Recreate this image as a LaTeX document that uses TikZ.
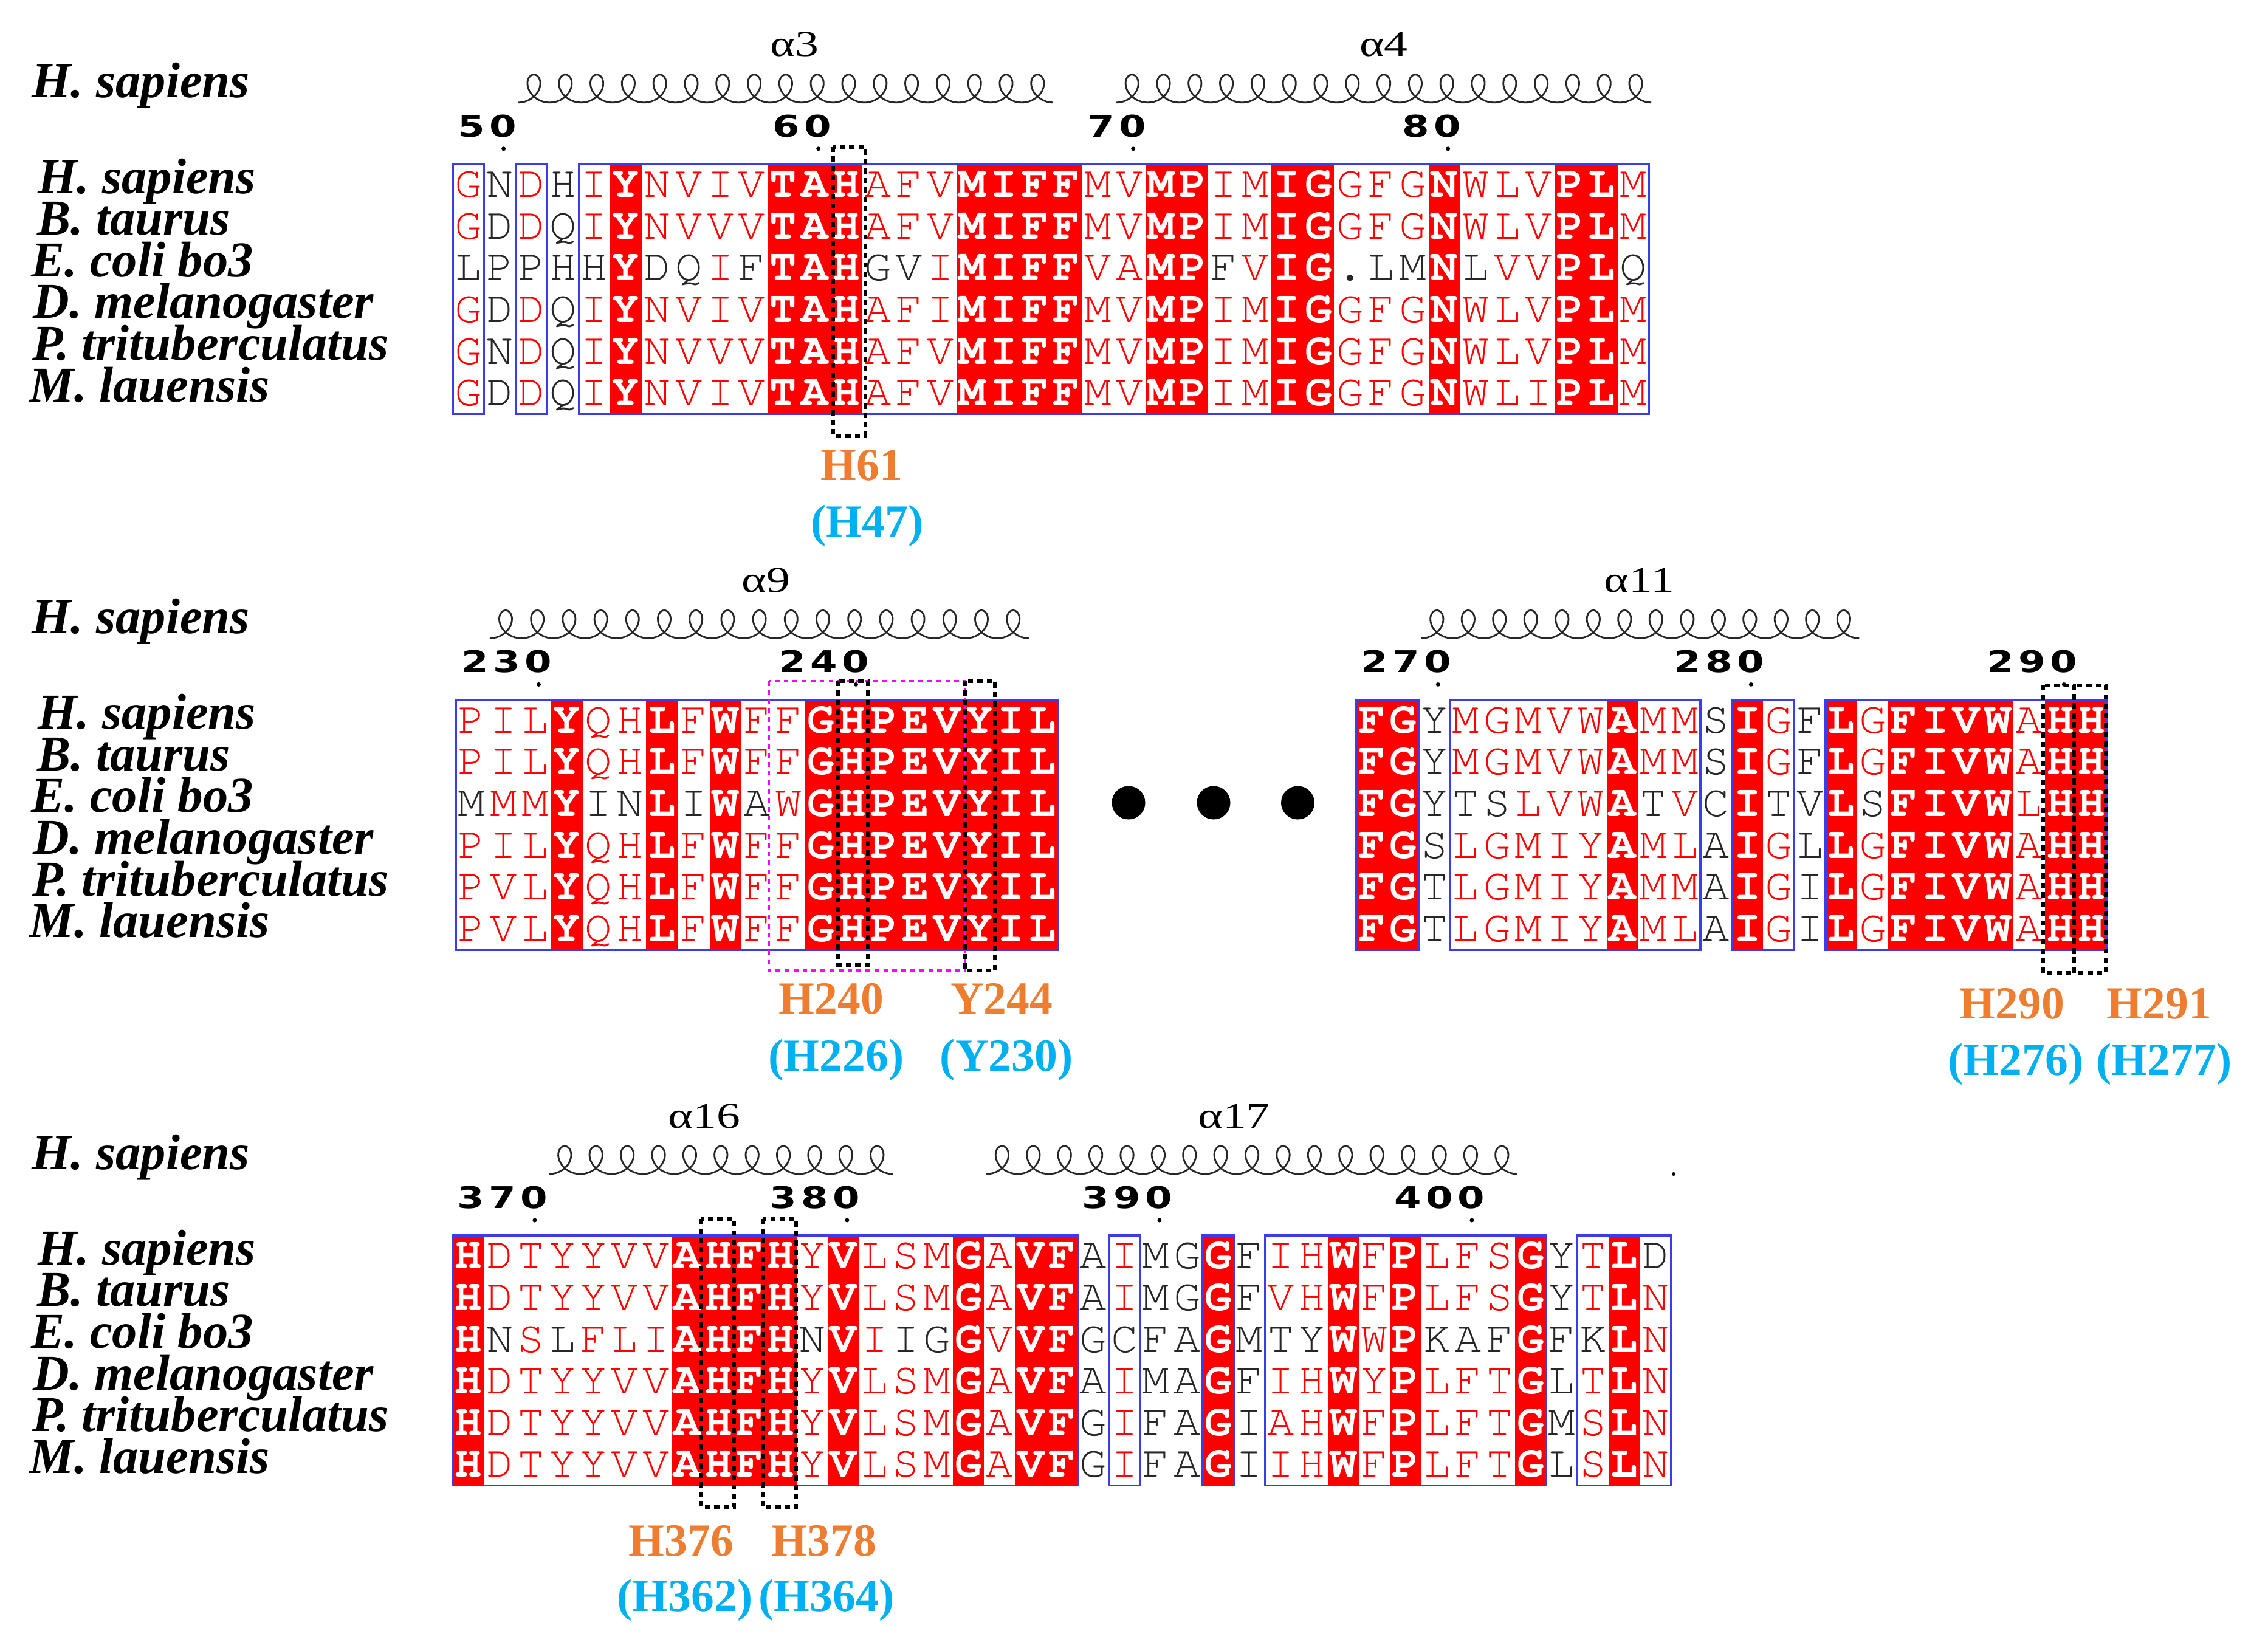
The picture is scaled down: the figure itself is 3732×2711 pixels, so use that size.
\documentclass[tikz,border=0pt]{standalone}
\usepackage{graphicx}
\usepackage{fontspec}
\setmainfont{Liberation Serif}
\newfontfamily\cursorfont{TeX Gyre Cursor}
\newfontfamily\dejafont{DejaVu Sans}

\definecolor{esred}{RGB}{255,0,0}
\definecolor{esblue}{RGB}{60,60,235}
\definecolor{lorange}{RGB}{237,125,49}
\definecolor{lblue}{RGB}{0,176,240}
\definecolor{magdot}{RGB}{255,0,255}

\newcount\rescnt
\def\cellrow#1#2#3#4{\def\rsPre{#1}\def\rsX{#2}\def\rsY{#3}\def\rsW{#4}\rescnt=0 \cellpair}
\def\cellpair#1#2{\ifx\relax#1\else\docell{#1}{#2}\expandafter\cellpair\fi}
\def\docell#1#2{\advance\rescnt by 1
 \pgfmathsetmacro\rsXX{\rsX+(\the\rescnt-0.5)*\rsW}%
 \node[res#2] (\rsPre\the\rescnt) at (\rsXX,\rsY) {#1};}

\newcommand\bgframes[5]{%
 \foreach \c in {#4} \fill[esred] ({#1+(\c-1)*#3},#2) rectangle ++(#3,411.6);
 \foreach \a/\b in {#5} \draw[frame] ({#1+(\a-1)*#3},#2) rectangle ({#1+\b*#3},{#2+411.6});
}
\newcommand\helixdraw[4]{%
 \pgfmathsetmacro\hxend{2*pi*(#3-1)+pi}%
 \pgfmathsetmacro\hns{int(36*#3)}%
 \draw[helixst] plot[domain=-3.14159:\hxend, samples=\hns, variable=\hh]
   ({#1+#4/6.28318*\hh-22*sin(\hh r)},{#2-23*(1+cos(\hh r))});
}
\newcommand\numd[1]{\makebox[0.52cm]{\scalebox{1.3}[1]{#1}}}
\newcommand\numlab[4]{%
 \node[numst, anchor=base east] (#1) at ({#2+32},{#3-44.5}) {#4};
 \fill[black] ({#2+6},{#3-25}) circle[radius=3.5];
}
\newcommand\alphalab[3]{\node[alab] (#1) at (#2) {\scalebox{1.3}[1]{#3}};}
\newcommand\speciesblock[2]{%
 \node[species] (#1top) at (52,{#2-109}) {H. sapiens};
 \foreach \n/\xo [count=\r] in {H. sapiens/62,B. taurus/61,E. coli bo3/51,D. melanogaster/54,P. trituberculatus/53,M. lauensis/48}
   \node[species] (#1sp\r) at (\xo,{#2+48.3+68.6*(\r-1)}) {\n};
}

\tikzset{
 resbase/.style={font=\cursorfont\fontsize{21}{21}\selectfont, inner sep=0pt, anchor=base},
 resr/.style={resbase, text=esred},
 resk/.style={resbase, text=black!85},
 resw/.style={resbase, text=white, font=\cursorfont\bfseries\fontsize{21}{21}\selectfont},
 frame/.style={draw=esblue, line width=0.9pt},
 helixst/.style={draw=black!85, line width=0.8pt},
 numst/.style={font=\dejafont\bfseries\fontsize{14}{14}\selectfont, inner sep=0pt},
 species/.style={font=\bfseries\itshape\fontsize{23.5}{23.5}\selectfont, anchor=base west, inner sep=0pt},
 alab/.style={font=\fontsize{17}{17}\selectfont, inner sep=0pt},
 olab/.style={font=\bfseries\fontsize{21.5}{21.5}\selectfont, text=lorange, inner sep=0pt, anchor=base},
 blab/.style={font=\bfseries\fontsize{21.5}{21.5}\selectfont, text=lblue, inner sep=0pt, anchor=base},
 dotbox/.style={draw=black, line width=1.7pt, dash pattern=on 2.4pt off 2pt},
 magbox/.style={draw=magdot, line width=1.3pt, dash pattern=on 2.2pt off 2pt},
}

\begin{document}
\begin{tikzpicture}[x=0.01cm, y=-0.01cm]
\useasboundingbox (0,0) rectangle (3732,2711);
\fill[white] (0,0) rectangle (3732,2711);

% ================= Block 1 =================
\speciesblock{a}{269.8}
\bgframes{745}{269.8}{51.8}{6,11,12,13,17,18,19,20,23,24,27,28,32,36,37}{1/1,3/3,5/38}
\cellrow{a1c}{745}{324.6}{51.8} Gr Nk Dr Hk Ir Yw Nr Vr Ir Vr Tw Aw Hw Ar Fr Vr Mw Iw Fw Fw Mr Vr Mw Pw Ir Mr Iw Gw Gr Fr Gr Nw Wr Lr Vr Pw Lw Mr \relax\relax
\cellrow{a2c}{745}{393.2}{51.8} Gr Dk Dr Qk Ir Yw Nr Vr Vr Vr Tw Aw Hw Ar Fr Vr Mw Iw Fw Fw Mr Vr Mw Pw Ir Mr Iw Gw Gr Fr Gr Nw Wr Lr Vr Pw Lw Mr \relax\relax
\cellrow{a3c}{745}{461.8}{51.8} Lk Pk Pk Hk Hk Yw Dk Qk Ir Fk Tw Aw Hw Gk Vk Ir Mw Iw Fw Fw Vr Ar Mw Pw Fk Vr Iw Gw .k Lk Mk Nw Lk Vr Vr Pw Lw Qk \relax\relax
\cellrow{a4c}{745}{530.4}{51.8} Gr Dk Dr Qk Ir Yw Nr Vr Ir Vr Tw Aw Hw Ar Fr Ir Mw Iw Fw Fw Mr Vr Mw Pw Ir Mr Iw Gw Gr Fr Gr Nw Wr Lr Vr Pw Lw Mr \relax\relax
\cellrow{a5c}{745}{599.0}{51.8} Gr Nk Dr Qk Ir Yw Nr Vr Vr Vr Tw Aw Hw Ar Fr Vr Mw Iw Fw Fw Mr Vr Mw Pw Ir Mr Iw Gw Gr Fr Gr Nw Wr Lr Vr Pw Lw Mr \relax\relax
\cellrow{a6c}{745}{667.6}{51.8} Gr Dk Dr Qk Ir Yw Nr Vr Ir Vr Tw Aw Hw Ar Fr Vr Mw Iw Fw Fw Mr Vr Mw Pw Ir Mr Iw Gw Gr Fr Gr Nw Wr Lr Ir Pw Lw Mr \relax\relax
\numlab{n50}{822.7}{269.8}{\numd{5}\numd{0}}
\numlab{n60}{1340.7}{269.8}{\numd{6}\numd{0}}
\numlab{n70}{1858.7}{269.8}{\numd{7}\numd{0}}
\numlab{n80}{2376.7}{269.8}{\numd{8}\numd{0}}
\helixdraw{878.5}{168.8}{17}{51.8}
\helixdraw{1862.7}{168.8}{17}{51.8}
\alphalab{a3}{1307.6,73.4}{α3}
\alphalab{a4}{2277,73.4}{α4}
\draw[dotbox] (1371,242) rectangle (1424,717);
\node[olab] (h61) at (1418,790) {H61};
\node[blab] (h47) at (1427,883) {(H47)};

% ================= Block 2 left =================
\speciesblock{b}{1151.4}
\bgframes{750}{1151.4}{52.2}{4,7,9,12,13,14,15,16,17,18,19}{1/19}
\cellrow{b1c}{750}{1206.2}{52.2} Pr Ir Lr Yw Qr Hr Lw Fr Ww Fr Fr Gw Hw Pw Ew Vw Yw Iw Lw \relax\relax
\cellrow{b2c}{750}{1274.8}{52.2} Pr Ir Lr Yw Qr Hr Lw Fr Ww Fr Fr Gw Hw Pw Ew Vw Yw Iw Lw \relax\relax
\cellrow{b3c}{750}{1343.4}{52.2} Mk Mr Mr Yw Ik Nk Lw Ik Ww Ak Wr Gw Hw Pw Ew Vw Yw Iw Lw \relax\relax
\cellrow{b4c}{750}{1412.0}{52.2} Pr Ir Lr Yw Qr Hr Lw Fr Ww Fr Fr Gw Hw Pw Ew Vw Yw Iw Lw \relax\relax
\cellrow{b5c}{750}{1480.6}{52.2} Pr Vr Lr Yw Qr Hr Lw Fr Ww Fr Fr Gw Hw Pw Ew Vw Yw Iw Lw \relax\relax
\cellrow{b6c}{750}{1549.2}{52.2} Pr Vr Lr Yw Qr Hr Lw Fr Ww Fr Fr Gw Hw Pw Ew Vw Yw Iw Lw \relax\relax
\numlab{n230}{880.5}{1151.4}{\numd{2}\numd{3}\numd{0}}
\numlab{n240}{1402.5}{1151.4}{\numd{2}\numd{4}\numd{0}}
\helixdraw{832}{1050.4}{17}{52.2}
\alphalab{a9}{1260.6,955}{α9}

% ================= Block 2 right =================
\bgframes{2231.5}{1151.4}{51.5}{1,2,9,13,16,18,19,20,21,23,24}{1/2,4/11,13/14,16/24}
\cellrow{c1c}{2231.5}{1206.2}{51.5} Fw Gw Yk Mr Gr Mr Vr Wr Aw Mr Mr Sk Iw Gr Fk Lw Gr Fw Iw Vw Ww Ar Hw Hw \relax\relax
\cellrow{c2c}{2231.5}{1274.8}{51.5} Fw Gw Yk Mr Gr Mr Vr Wr Aw Mr Mr Sk Iw Gr Fk Lw Gr Fw Iw Vw Ww Ar Hw Hw \relax\relax
\cellrow{c3c}{2231.5}{1343.4}{51.5} Fw Gw Yk Tk Sk Lr Vr Wr Aw Tk Vr Ck Iw Tk Vk Lw Sk Fw Iw Vw Ww Lr Hw Hw \relax\relax
\cellrow{c4c}{2231.5}{1412.0}{51.5} Fw Gw Sk Lr Gr Mr Ir Yr Aw Mr Lr Ak Iw Gr Lk Lw Gr Fw Iw Vw Ww Ar Hw Hw \relax\relax
\cellrow{c5c}{2231.5}{1480.6}{51.5} Fw Gw Tk Lr Gr Mr Ir Yr Aw Mr Mr Ak Iw Gr Ik Lw Gr Fw Iw Vw Ww Ar Hw Hw \relax\relax
\cellrow{c6c}{2231.5}{1549.2}{51.5} Fw Gw Tk Lr Gr Mr Ir Yr Aw Mr Lr Ak Iw Gr Ik Lw Gr Fw Iw Vw Ww Ar Hw Hw \relax\relax
\numlab{n270}{2360.3}{1151.4}{\numd{2}\numd{7}\numd{0}}
\numlab{n280}{2875.3}{1151.4}{\numd{2}\numd{8}\numd{0}}
\numlab{n290}{3390.3}{1151.4}{\numd{2}\numd{9}\numd{0}}
\helixdraw{2364.3}{1050.4}{14}{51.5}
\alphalab{a11}{2697.5,955}{α11}

% ellipsis
\fill[black] (1857,1321) circle[radius=27.5];
\fill[black] (1997,1321) circle[radius=27.5];
\fill[black] (2135.5,1321) circle[radius=27.5];

% boxes block 2
\draw[magbox] (1265,1121) rectangle (1588,1597);
\draw[dotbox] (1379,1121) rectangle (1428,1588);
\draw[dotbox] (1588,1121) rectangle (1637,1597);
\draw[dotbox] (3362,1128) rectangle (3413,1601);
\draw[dotbox] (3413,1128) rectangle (3465,1601);
\node[olab] (h240) at (1368,1668) {H240};
\node[blab] (h226) at (1376,1762) {(H226)};
\node[olab] (y244) at (1648,1668) {Y244};
\node[blab] (y230) at (1656,1762) {(Y230)};
\node[olab] (h290) at (3311,1676) {H290};
\node[blab] (h276) at (3317,1769) {(H276)};
\node[olab] (h291) at (3553,1676) {H291};
\node[blab] (h277) at (3561,1769) {(H277)};

% ================= Block 3 =================
\speciesblock{d}{2033}
\bgframes{745.4}{2033}{51.4}{1,8,9,10,11,13,17,19,20,25,29,31,35,38}{1/20,22/22,25/25,27/35,37/39}
\cellrow{d1c}{745.4}{2087.8}{51.4} Hw Dr Tr Yr Yr Vr Vr Aw Hw Fw Hw Yr Vw Lr Sr Mr Gw Ar Vw Fw Ak Ir Mk Gk Gw Fk Ir Hr Ww Fr Pw Lr Fr Sr Gw Yk Tr Lw Dk \relax\relax
\cellrow{d2c}{745.4}{2156.4}{51.4} Hw Dr Tr Yr Yr Vr Vr Aw Hw Fw Hw Yr Vw Lr Sr Mr Gw Ar Vw Fw Ak Ir Mk Gk Gw Fk Vr Hr Ww Fr Pw Lr Fr Sr Gw Yk Tr Lw Nr \relax\relax
\cellrow{d3c}{745.4}{2225.0}{51.4} Hw Nk Sr Lk Fr Lr Ir Aw Hw Fw Hw Nk Vw Ir Ik Gk Gw Vr Vw Fw Gk Ck Fk Ak Gw Mk Tk Yk Ww Wr Pw Kk Ak Fk Gw Fk Kk Lw Nr \relax\relax
\cellrow{d4c}{745.4}{2293.6}{51.4} Hw Dr Tr Yr Yr Vr Vr Aw Hw Fw Hw Yr Vw Lr Sr Mr Gw Ar Vw Fw Ak Ir Mk Ak Gw Fk Ir Hr Ww Yr Pw Lr Fr Tr Gw Lk Tr Lw Nr \relax\relax
\cellrow{d5c}{745.4}{2362.2}{51.4} Hw Dr Tr Yr Yr Vr Vr Aw Hw Fw Hw Yr Vw Lr Sr Mr Gw Ar Vw Fw Gk Ir Fk Ak Gw Ik Ar Hr Ww Fr Pw Lr Fr Tr Gw Mk Sr Lw Nr \relax\relax
\cellrow{d6c}{745.4}{2430.8}{51.4} Hw Dr Tr Yr Yr Vr Vr Aw Hw Fw Hw Yr Vw Lr Sr Mr Gw Ar Vw Fw Gk Ir Fk Ak Gw Ik Ir Hr Ww Fr Pw Lr Fr Tr Gw Lk Sr Lw Nr \relax\relax
\numlab{n370}{873.9}{2033}{\numd{3}\numd{7}\numd{0}}
\numlab{n380}{1387.9}{2033}{\numd{3}\numd{8}\numd{0}}
\numlab{n390}{1901.9}{2033}{\numd{3}\numd{9}\numd{0}}
\numlab{n400}{2415.9}{2033}{\numd{4}\numd{0}\numd{0}}
\helixdraw{929.3}{1932}{11}{51.4}
\helixdraw{1648.9}{1932}{17}{51.4}
\alphalab{a16}{1159,1836.6}{α16}
\alphalab{a17}{2030.6,1836.6}{α17}
\fill[black] (2754,1932) circle[radius=3];
\draw[dotbox] (1154,2006) rectangle (1208,2480);
\draw[dotbox] (1255,2006) rectangle (1310,2480);
\node[olab] (h376) at (1121,2560) {H376};
\node[blab] (h362) at (1127,2651) {(H362)};
\node[olab] (h378) at (1356,2560) {H378};
\node[blab] (h364) at (1360,2651) {(H364)};
\end{tikzpicture}
\end{document}
